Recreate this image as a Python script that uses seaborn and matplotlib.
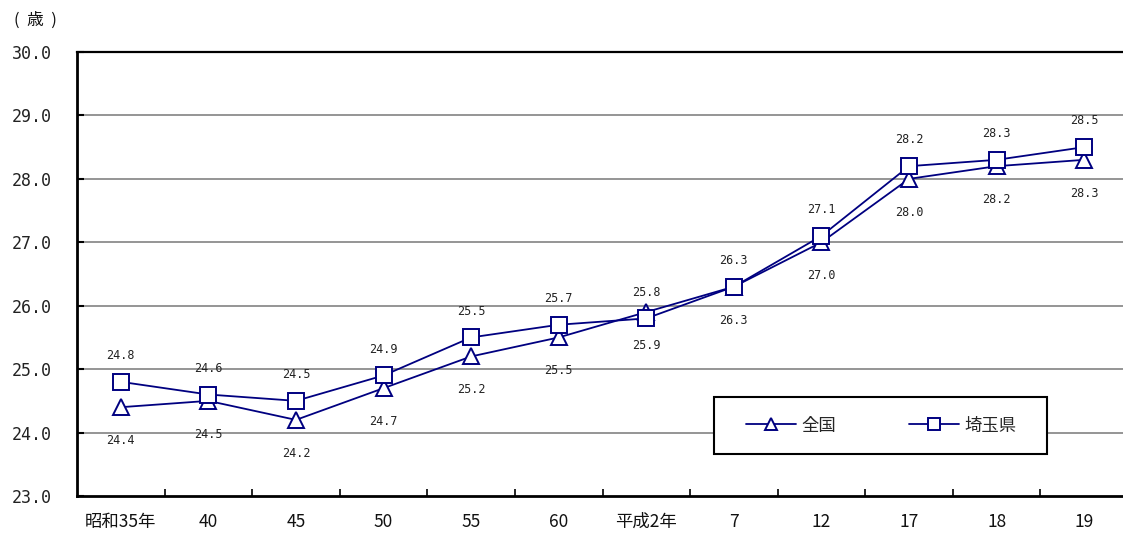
import matplotlib
matplotlib.use("Agg")
import matplotlib.pyplot as plt
import seaborn as sns
import pandas as pd
from matplotlib.ticker import FixedLocator
from matplotlib.lines import Line2D
from matplotlib.patches import Rectangle

categories = ["昭和35年", "40", "45", "50", "55", "60", "平成2年", "7", "12", "17", "18", "19"]
zenkoku = [24.4, 24.5, 24.2, 24.7, 25.2, 25.5, 25.9, 26.3, 27.0, 28.0, 28.2, 28.3]
saitama = [24.8, 24.6, 24.5, 24.9, 25.5, 25.7, 25.8, 26.3, 27.1, 28.2, 28.3, 28.5]
series_names = ["全国", "埼玉県"]
y_ticks = [23.0, 24.0, 25.0, 26.0, 27.0, 28.0, 29.0, 30.0]

sns.set_theme(style="white")
JP = ["Noto Sans CJK JP", "DejaVu Sans"]
plt.rcParams["font.family"] = JP

navy = "#000080"
pos = list(range(len(categories)))
df = pd.DataFrame({
    "x": pos * 2,
    "value": zenkoku + saitama,
    "series": [series_names[0]] * len(pos) + [series_names[1]] * len(pos),
})

W, H = 1123, 536
fig = plt.figure(figsize=(W / 100, H / 100), dpi=100)
ax = fig.add_axes([77 / W, 40 / H, (1128 - 77) / W, (496 - 52) / H])

sns.lineplot(data=df, x="x", y="value", hue="series", style="series",
             palette={series_names[0]: navy, series_names[1]: navy},
             markers={series_names[0]: "^", series_names[1]: "s"},
             dashes=False, markersize=12, markerfacecolor="white",
             markeredgecolor=navy, markeredgewidth=1.4, linewidth=1.3,
             ax=ax, legend=False)

ax.set_xlim(-0.5, len(categories) - 0.5)
ax.set_ylim(23.0, 30.0)
ax.set_yticks(y_ticks)
ax.set_yticklabels([f"{v:.1f}" for v in y_ticks], family="DejaVu Sans Mono", fontsize=12, color="#222222")
ax.set_xticks(pos)
ax.set_xticklabels(categories, fontsize=12.5, color="#111111")
ax.xaxis.set_minor_locator(FixedLocator([i + 0.5 for i in pos[:-1]]))
ax.tick_params(axis="x", which="major", length=0, pad=12)
ax.tick_params(axis="x", which="minor", direction="in", length=5, width=1.2, color="black", bottom=True)
ax.tick_params(axis="y", which="major", direction="in", length=5, width=1.5, color="black", left=True, pad=18)
ax.set_xlabel("")
ax.set_ylabel("")

ax.grid(False)
for v in y_ticks[1:-1]:
    ax.axhline(v, color="#8c8c8c", lw=1.3, zorder=0)

for side in ["left", "bottom"]:
    ax.spines[side].set_color("black")
    ax.spines[side].set_linewidth(2)
ax.spines["top"].set_color("black")
ax.spines["top"].set_linewidth(1.6)
ax.spines["right"].set_visible(False)

for i, (a, b) in enumerate(zip(zenkoku, saitama)):
    ax.annotate(f"{b:.1f}", (i, b), xytext=(0, 19), textcoords="offset points",
                ha="center", va="center", fontsize=8.5, family="DejaVu Sans Mono", color="#222222")
    ax.annotate(f"{a:.1f}", (i, a), xytext=(0, -24), textcoords="offset points",
                ha="center", va="center", fontsize=8.5, family="DejaVu Sans Mono", color="#222222")

# legend frame
fig.patches.append(Rectangle((714 / W, 1 - 454 / H), (1047 - 714) / W, (454 - 397) / H,
                             transform=fig.transFigure, facecolor="white", edgecolor="black",
                             linewidth=1.5, zorder=5))
handles = [
    Line2D([], [], color=navy, marker="^", markersize=8.5, markerfacecolor="white",
           markeredgecolor=navy, markeredgewidth=1.4, lw=1.3),
    Line2D([], [], color=navy, marker="s", markersize=8, markerfacecolor="white",
           markeredgecolor=navy, markeredgewidth=1.4, lw=1.3),
]
leg = fig.legend(handles, series_names, loc="center", bbox_to_anchor=(881 / W, 1 - 425.5 / H),
                 ncol=2, frameon=False, fontsize=12.5, handlelength=2.9, columnspacing=4.2,
                 borderpad=0, handletextpad=0.3, borderaxespad=0)
leg.set_zorder(6)

fig.text(14 / W, 1 - 20 / H, "(  歳  )", fontsize=12, va="center", ha="left", color="#111111")

fig.savefig("out.png", dpi=100)
